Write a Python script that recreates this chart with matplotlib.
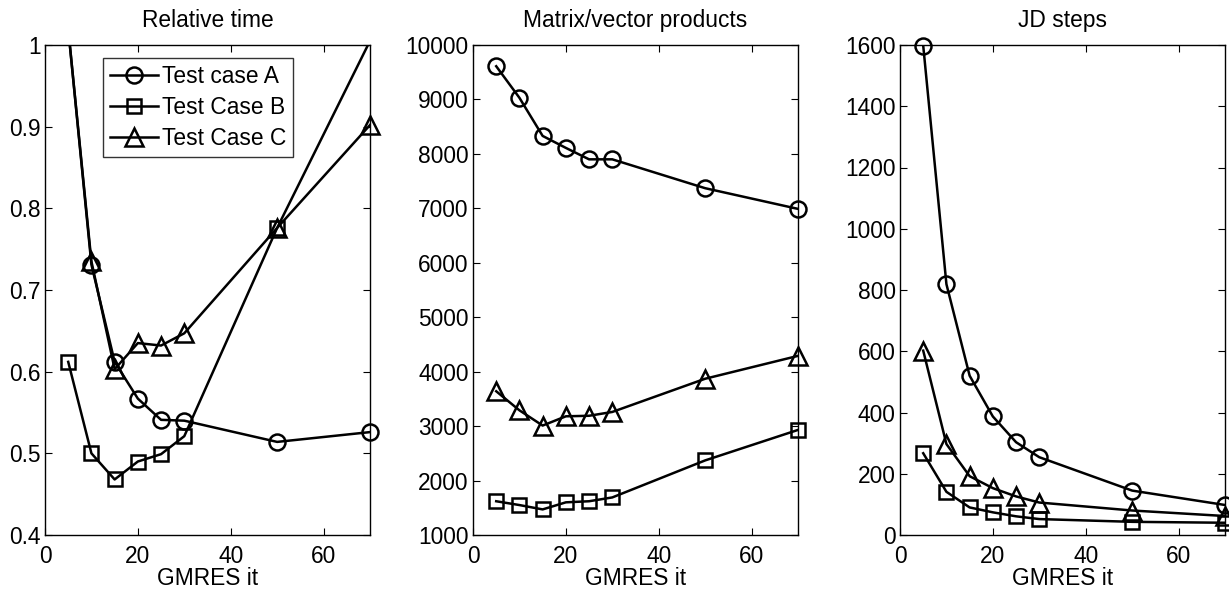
import matplotlib
matplotlib.use("Agg")
import matplotlib.pyplot as plt
from matplotlib.lines import Line2D
import numpy as np

plt.rcParams['font.family'] = ['Liberation Sans', 'DejaVu Sans']

gmres_it = [5, 10, 15, 20, 25, 30, 50, 70]

# Relative time
time_A = [1.02, 0.731, 0.612, 0.567, 0.541, 0.540, 0.514, 0.526]
time_B = [0.612, 0.500, 0.468, 0.490, 0.499, 0.521, 0.776, 1.005]
time_C = [1.02, 0.735, 0.603, 0.635, 0.632, 0.647, 0.776, 0.902]

# Matrix/vector products
mv_A = [9610, 9030, 8330, 8110, 7900, 7900, 7370, 6990]
mv_B = [1620, 1550, 1470, 1600, 1620, 1690, 2370, 2930]
mv_C = [3640, 3290, 3010, 3180, 3190, 3260, 3870, 4290]

# JD steps
jd_A = [1598, 819, 520, 387, 303, 254, 145, 98]
jd_B = [267, 141, 90, 74, 61, 52, 43, 40]
jd_C = [602, 297, 192, 153, 126, 106, 80, 62]

series_labels = ['Test case A', 'Test Case B', 'Test Case C']
markers = ['o', 's', '^']
marker_sizes = [11.5, 9.8, 12.5]

titles = ['Relative time', 'Matrix/vector products', 'JD steps']
xlabel = 'GMRES it'
xticks = [0, 20, 40, 60]
ylims = [(0.4, 1.0), (1000, 10000), (0, 1600)]
yticks = [
    [0.4, 0.5, 0.6, 0.7, 0.8, 0.9, 1.0],
    [1000, 2000, 3000, 4000, 5000, 6000, 7000, 8000, 9000, 10000],
    [0, 200, 400, 600, 800, 1000, 1200, 1400, 1600],
]
yticklabels = [
    ['0.4', '0.5', '0.6', '0.7', '0.8', '0.9', '1'],
    [str(v) for v in yticks[1]],
    [str(v) for v in yticks[2]],
]
panels = [(time_A, time_B, time_C), (mv_A, mv_B, mv_C), (jd_A, jd_B, jd_C)]

W, H = 1229, 590
fig = plt.figure(figsize=(W / 100, H / 100), dpi=100)

lefts = [45, 473, 900]
ax_w = 325
ax_top = 45
ax_bot = 535
FS = 16.4
LW = 1.8

axes = []
for i, left in enumerate(lefts):
    ax = fig.add_axes([left / W, 1 - ax_bot / H, ax_w / W, (ax_bot - ax_top) / H])
    axes.append(ax)
    lo, hi = ylims[i]
    for s, ys in enumerate(panels[i]):
        ys = np.asarray(ys, dtype=float)
        xs = np.asarray(gmres_it, dtype=float)
        ax.plot(xs, ys, '-', color='black', lw=LW, clip_on=True, zorder=2)
        inside = (ys >= lo) & (ys <= hi)
        ax.plot(xs[inside], ys[inside], linestyle='none', marker=markers[s],
                ms=marker_sizes[s], mfc='none', mec='black', mew=LW,
                clip_on=False, zorder=3)
    ax.set_xlim(0, 70)
    ax.set_ylim(lo, hi)
    ax.set_xticks(xticks)
    ax.set_xticklabels([str(t) for t in xticks])
    ax.set_yticks(yticks[i])
    ax.set_yticklabels(yticklabels[i])
    ax.tick_params(direction='in', top=True, right=True, length=5, width=0.8,
                   labelsize=FS, colors='black')
    ax.tick_params(axis='x', pad=7.5)
    ax.tick_params(axis='y', pad=3)
    for sp in ax.spines.values():
        sp.set_linewidth(1.0)
        sp.set_color('black')
    ax.set_title(titles[i], fontsize=FS, pad=13)
    ax.set_xlabel(xlabel, fontsize=FS, labelpad=-1)

handles = [Line2D([0], [0], color='black', lw=LW, marker=m, ms=ms, mfc='none',
                  mec='black', mew=LW)
           for m, ms in zip(markers, marker_sizes)]
leg = axes[0].legend(handles, series_labels, loc='upper left',
                     bbox_to_anchor=((103 - 45) / ax_w, 1 - (58 - 45) / (ax_bot - ax_top)),
                     borderaxespad=0, fontsize=FS, frameon=True, fancybox=False,
                     edgecolor='black', handlelength=2.1, handletextpad=0.2,
                     borderpad=0.3, labelspacing=0.35)
leg.get_frame().set_linewidth(1.0)

fig.savefig('out.png', dpi=100)
